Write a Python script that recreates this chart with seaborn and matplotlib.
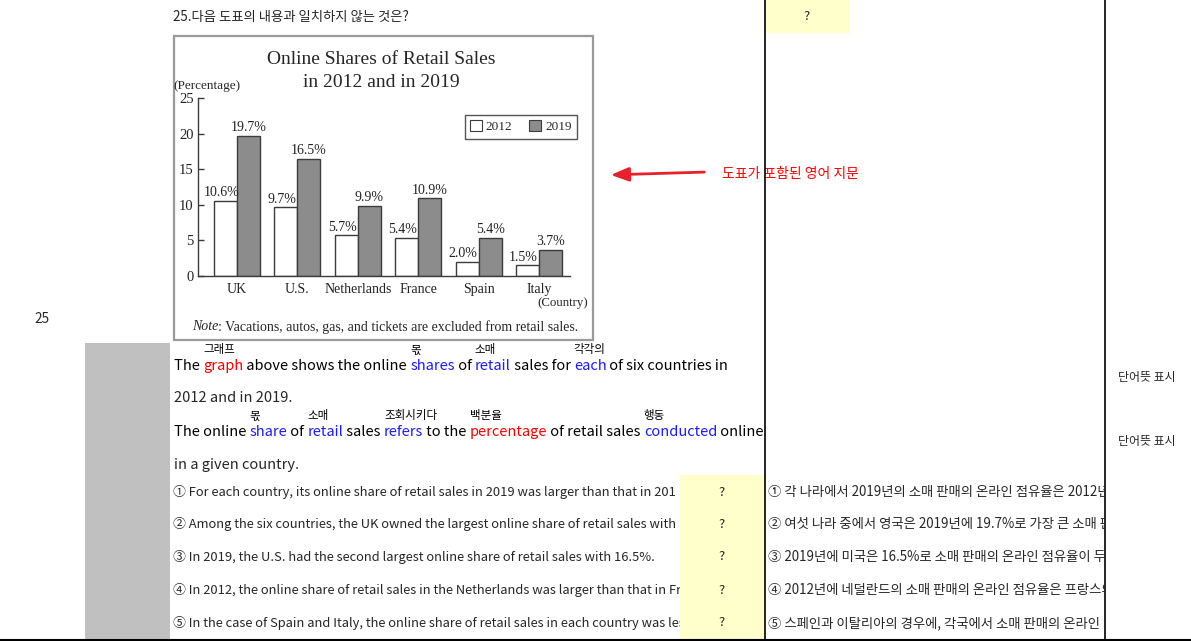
import matplotlib
matplotlib.use("Agg")
import matplotlib.pyplot as plt
from matplotlib.patches import Rectangle, Patch
from matplotlib.transforms import Bbox
import seaborn as sns
import pandas as pd

# ---------------- data ----------------
countries = ["UK", "U.S.", "Netherlands", "France", "Spain", "Italy"]
share_2012 = [10.6, 9.7, 5.7, 5.4, 2.0, 1.5]
share_2019 = [19.7, 16.5, 9.9, 10.9, 5.4, 3.7]
years = ["2012", "2019"]
y_ticks = [0, 5, 10, 15, 20, 25]

chart_title = "Online Shares of Retail Sales\nin 2012 and in 2019"
question = "25.다음 도표의 내용과 일치하지 않는 것은?"
row_number = "25"
arrow_label = "도표가 포함된 영어 지문"
word_mark = "단어뜻 표시"
note_text = ": Vacations, autos, gas, and tickets are excluded from retail sales."

passage_line1 = [("The ", "k", None), ("graph", "r", "그래프"), (" above shows the online ", "k", None),
                 ("shares", "b", "몫"), (" of ", "k", None), ("retail", "b", "소매"),
                 (" sales for ", "k", None), ("each", "b", "각각의"), (" of six countries in", "k", None)]
passage_line2 = "2012 and in 2019."
passage_line3 = [("The online ", "k", None), ("share", "b", "몫"), (" of ", "k", None),
                 ("retail", "b", "소매"), (" sales ", "k", None), ("refers", "b", "조회시키다"),
                 (" to the ", "k", None), ("percentage", "r", "백분율"),
                 (" of retail sales ", "k", None), ("conducted", "b", "행동"), (" online", "k", None)]
passage_line4 = "in a given country."

# option texts as visible in their (narrow) cells
options_en = [
    "① For each country, its online share of retail sales in 2019 was larger than that in 201",
    "② Among the six countries, the UK owned the largest online share of retail sales with",
    "③ In 2019, the U.S. had the second largest online share of retail sales with 16.5%.",
    "④ In 2012, the online share of retail sales in the Netherlands was larger than that in Fr",
    "⑤ In the case of Spain and Italy, the online share of retail sales in each country was less",
]
options_ko = [
    "① 각 나라에서 2019년의 소매 판매의 온라인 점유율은 2012년",
    "② 여섯 나라 중에서 영국은 2019년에 19.7%로 가장 큰 소매 판",
    "③ 2019년에 미국은 16.5%로 소매 판매의 온라인 점유율이 두",
    "④ 2012년에 네덜란드의 소매 판매의 온라인 점유율은 프랑스의",
    "⑤ 스페인과 이탈리아의 경우에, 각국에서 소매 판매의 온라인 점",
]

# ---------------- style ----------------
sns.set_theme(style="white")
KF = ["Noto Sans CJK KR", "DejaVu Sans"]
SERIF = "Liberation Serif"
plt.rcParams["font.family"] = KF

W, H = 1191, 641
fig = plt.figure(figsize=(W / 100, H / 100), dpi=100)
fig.patch.set_facecolor("white")

bg = fig.add_axes([0, 0, 1, 1])
bg.set_xlim(0, W)
bg.set_ylim(H, 0)
bg.axis("off")
renderer = fig.canvas.get_renderer()

COL = {"k": "black", "r": "#ff0000", "b": "#1a1aff"}


def text_width(s, size, family=KF, style="normal"):
    t = bg.text(0, 0, s + "|", fontsize=size, family=family, style=style)
    w1 = t.get_window_extent(renderer).width
    t.remove()
    t = bg.text(0, 0, "|", fontsize=size, family=family, style=style)
    w2 = t.get_window_extent(renderer).width
    t.remove()
    return w1 - w2


def draw_runs(x0, y, runs, size, ann_dy=-16, ann_size=8.3):
    x = x0
    for s, c, ann in runs:
        bg.text(x, y, s, color=COL[c], fontsize=size, va="center", ha="left", zorder=3)
        if ann:
            bg.text(x, y + ann_dy, ann, color="black", fontsize=ann_size, va="center", ha="left", zorder=3)
        x += text_width(s, size)


def pixel_box(x0, y0, x1, y1):
    # top-left pixel coordinates -> display bbox
    return Bbox.from_extents(x0, H - y1, x1, H - y0)


# ---------------- worksheet layout ----------------
bg.add_patch(Rectangle((765, 0), 85, 33, facecolor="#ffffcc", edgecolor="none", zorder=1))
bg.text(807, 17, "?", fontsize=9.5, ha="center", va="center", zorder=3)
bg.add_patch(Rectangle((85, 343), 85, 298, facecolor="#c0c0c0", edgecolor="none", zorder=1))

bg.text(173, 17, question, fontsize=9.6, ha="left", va="center", zorder=3)
bg.text(34, 319, row_number, fontsize=9.8, ha="left", va="center", zorder=3)

bg.annotate("", xy=(608, 175), xytext=(707, 172),
            arrowprops=dict(arrowstyle="-|>,head_length=0.9,head_width=0.35", color="#e8202a", lw=2),
            zorder=3)
bg.text(722, 174, arrow_label, color="#ff0000", fontsize=10, ha="left", va="center", zorder=3)

bg.text(1118, 377, word_mark, fontsize=8.6, ha="left", va="center", zorder=3)
bg.text(1118, 442, word_mark, fontsize=8.6, ha="left", va="center", zorder=3)

PS = 10.5
draw_runs(174, 366, passage_line1, PS)
bg.text(174, 398, passage_line2, fontsize=PS, ha="left", va="center", zorder=3)
draw_runs(174, 432, passage_line3, PS)
bg.text(174, 465, passage_line4, fontsize=PS, ha="left", va="center", zorder=3)

bg.add_patch(Rectangle((680, 475), 85, 165, facecolor="#ffffcc", edgecolor="none", zorder=1))
row_y = [492, 524, 557, 590, 623]
box_en = pixel_box(170, 475, 680, 640)
box_ko = pixel_box(766, 475, 1104, 640)
for yy, en, ko in zip(row_y, options_en, options_ko):
    t1 = bg.text(173, yy, en, fontsize=9.3, ha="left", va="center", zorder=3, clip_on=True)
    t1.set_clip_box(box_en)
    t2 = bg.text(768, yy, ko, fontsize=9.6, ha="left", va="center", zorder=3, clip_on=True)
    t2.set_clip_box(box_ko)
    bg.text(722, yy, "?", fontsize=9.5, ha="center", va="center", zorder=6)

bg.plot([765, 765], [0, H], color="black", lw=1.2, zorder=7)
bg.plot([1105, 1105], [0, H], color="black", lw=1.2, zorder=7)
bg.plot([0, W], [639.5, 639.5], color="black", lw=1.5, zorder=7)

# chart frame and its texts
bg.add_patch(Rectangle((174, 36), 419, 304, facecolor="white", edgecolor="#9a9a9a", lw=1.6, zorder=2))
bg.text(381, 71, chart_title, family=SERIF, fontsize=14, ha="center", va="center",
        linespacing=1.5, zorder=3)
bg.text(173, 86, "(Percentage)", family=SERIF, fontsize=9.5, ha="left", va="center", zorder=3)
bg.text(588, 303, "(Country)", family=SERIF, fontsize=9.3, ha="right", va="center", zorder=3)
NS = 10.0
nx = 192
bg.text(nx, 327, "Note", family=SERIF, style="italic", fontsize=NS, ha="left", va="center", zorder=3)
nx += text_width("Note", NS, family=SERIF, style="italic")
bg.text(nx, 327, note_text, family=SERIF, fontsize=NS, ha="left", va="center", zorder=3)

# ---------------- bar chart ----------------
ax_l, ax_r, ax_t, ax_b = 198, 570, 98, 276
ax = fig.add_axes([ax_l / W, 1 - ax_b / H, (ax_r - ax_l) / W, (ax_b - ax_t) / H])
ax.set_facecolor("none")
ax.set_zorder(4)

df = pd.DataFrame({
    "Country": countries * 2,
    "Share": share_2012 + share_2019,
    "Year": [years[0]] * len(countries) + [years[1]] * len(countries),
})
palette = {years[0]: "white", years[1]: "#8c8c8c"}
sns.barplot(data=df, x="Country", y="Share", hue="Year", order=countries, hue_order=years,
            palette=palette, edgecolor="#3c3c3c", linewidth=1.0, width=0.76, gap=0,
            saturation=1, ax=ax, legend=False)

for ci, (cont, vals) in enumerate(zip(ax.containers, [share_2012, share_2019])):
    dx = -3 if ci == 0 else 0
    for p, v in zip(cont.patches, vals):
        ax.annotate(f"{v:.1f}%", xy=(p.get_x() + p.get_width() / 2, p.get_height()),
                    xytext=(dx, 1), textcoords="offset points", ha="center", va="bottom",
                    family=SERIF, fontsize=10, color="#222222")

ax.set_ylim(0, 25)
ax.set_xlim(-0.645, 5.51)
ax.set_yticks(y_ticks)
ax.set_yticklabels([str(t) for t in y_ticks], family=SERIF, fontsize=10.5, color="#222222")
ax.set_xticks(range(len(countries)))
ax.set_xticklabels(countries, family=SERIF, fontsize=10, color="#222222")
ax.tick_params(axis="y", direction="in", length=4, width=1, color="#3c3c3c", pad=3, left=True)
ax.tick_params(axis="x", length=0, pad=5)
ax.set_xlabel("")
ax.set_ylabel("")
for side in ["top", "right"]:
    ax.spines[side].set_visible(False)
for side in ["left", "bottom"]:
    ax.spines[side].set_color("#3c3c3c")
    ax.spines[side].set_linewidth(1.0)

handles = [Patch(facecolor=palette[y], edgecolor="#3c3c3c", lw=0.8, label=y) for y in years]
leg = ax.legend(handles=handles, ncol=2, loc="upper right", bbox_to_anchor=(1.019, 0.904),
                frameon=True, fancybox=False, edgecolor="#555555", framealpha=1,
                prop={"family": SERIF, "size": 9.5}, handlelength=0.9, handleheight=0.9,
                handletextpad=0.3, columnspacing=1.3, borderpad=0.4, borderaxespad=0)
leg.get_frame().set_linewidth(1.0)

fig.savefig("out.png", dpi=100, facecolor="white")
